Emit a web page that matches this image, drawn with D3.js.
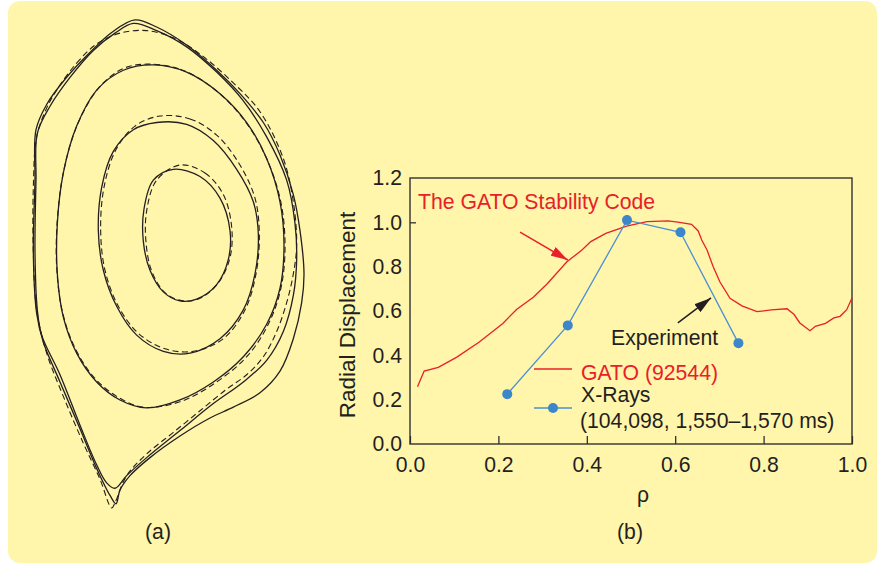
<!DOCTYPE html>
<html>
<head>
<meta charset="utf-8">
<script src="https://cdn.jsdelivr.net/npm/d3@7"></script>
<style>
  body { margin: 0; background: #fff; }
  svg text { font-family: "Liberation Sans", Arial, Helvetica, sans-serif; fill: #231f20; }
</style>
</head>
<body>
<div id="outer"></div>
<script>

////////// DATA //////////

// (b) radial displacement vs rho
const xTicks = [0, 0.2, 0.4, 0.6, 0.8, 1.0];
const yTicks = [0, 0.2, 0.4, 0.6, 0.8, 1.0, 1.2];

const gatoRho  = [0.017, 0.032, 0.064, 0.106, 0.156, 0.210, 0.241, 0.279, 0.310, 0.355, 0.389, 0.409, 0.443, 0.490,
                  0.536, 0.584, 0.606, 0.637, 0.652, 0.660, 0.672, 0.686, 0.701, 0.724, 0.751, 0.785, 0.817, 0.853,
                  0.869, 0.882, 0.905, 0.917, 0.940, 0.959, 0.973, 0.988, 1.000];
const gatoDisp = [0.258, 0.329, 0.346, 0.392, 0.459, 0.544, 0.607, 0.662, 0.722, 0.822, 0.875, 0.913, 0.950, 0.983,
                  1.003, 1.007, 1.001, 0.991, 0.961, 0.920, 0.875, 0.800, 0.732, 0.657, 0.623, 0.597, 0.605, 0.610,
                  0.584, 0.546, 0.511, 0.531, 0.544, 0.569, 0.576, 0.606, 0.659];

const xrayRho  = [0.220, 0.357, 0.491, 0.612, 0.743];
const xrayDisp = [0.225, 0.535, 1.010, 0.955, 0.455];

// (a) flux surfaces, traced in picture units (990 x 1568 frame)
const outerSolidA = [[405,55],[470,75],[560,125],[650,195],[720,260],[790,340],[840,430],[880,540],[900,640],[912,760],
  [905,840],[880,940],[840,1030],[780,1090],[700,1130],[630,1160],[540,1210],[450,1270],[390,1320],[360,1360],[348,1398],
  [330,1375],[290,1300],[240,1190],[180,1060],[130,950],[110,870],[100,700],[105,500],[108,360],[140,290],[195,220],
  [265,150],[335,90]];
const outerSolidB = [[400,65],[470,85],[560,130],[650,200],[730,280],[800,380],[860,500],[885,620],[890,720],[880,820],
  [850,920],[800,1000],[730,1060],[640,1120],[540,1195],[440,1270],[380,1320],[345,1355],[320,1340],[290,1290],[240,1180],
  [180,1040],[125,930],[112,860],[105,700],[108,500],[112,370],[150,295],[210,215],[280,140],[345,92]];
const outerDashed = [[170,250],[230,175],[290,122],[360,92],[440,85],[520,105],[600,150],[700,230],[780,310],[850,440],
  [880,560],[890,680],[880,760],[860,840],[830,920],[790,990],[740,1040],[680,1080],[600,1140],[520,1200],[440,1260],
  [380,1320],[345,1395],[335,1410],[300,1330],[250,1230],[190,1100],[140,980],[110,860],[100,700],[100,520],[110,380],
  [140,300]];
const midSolid = [[460,180],[560,200],[660,260],[740,340],[800,440],[840,560],[852,680],[840,800],[800,900],[730,990],
  [640,1060],[540,1110],[440,1132],[360,1110],[290,1060],[230,980],[190,880],[172,760],[172,620],[190,480],[230,350],
  [290,250],[370,195]];
const midDashed = [[440,178],[540,192],[640,245],[730,330],[795,430],[840,550],[855,670],[845,790],[810,890],[745,985],
  [650,1060],[540,1115],[430,1130],[350,1100],[280,1045],[222,960],[186,860],[170,740],[172,610],[192,470],[235,340],
  [300,240],[370,190]];
const innerSolid = [[470,340],[560,345],[640,390],[710,470],[760,560],[775,650],[765,760],[730,860],[660,940],[570,980],
  [490,975],[410,930],[350,850],[310,750],[295,640],[305,520],[340,420],[400,360]];
const innerDashed = [[480,322],[570,330],[650,375],[718,455],[765,550],[778,650],[768,760],[735,860],[670,940],[580,975],
  [495,968],[415,925],[355,850],[315,750],[302,640],[312,520],[348,415],[405,350]];
const coreSolid = [[520,470],[600,490],[660,550],[690,640],[685,720],[650,790],[590,830],[540,835],[490,810],[450,750],
  [430,670],[432,580],[460,500]];
const coreDashed = [[540,458],[615,480],[670,540],[695,630],[690,715],[655,785],[600,828],[548,835],[495,812],[455,752],
  [438,672],[440,585],[470,500]];

const surfaces = [
  {pts: outerSolidA, dashed: false}, {pts: outerSolidB, dashed: false}, {pts: outerDashed, dashed: true},
  {pts: midSolid, dashed: false}, {pts: midDashed, dashed: true},
  {pts: innerSolid, dashed: false}, {pts: innerDashed, dashed: true},
  {pts: coreSolid, dashed: false}, {pts: coreDashed, dashed: true}
];

////////// SETUP //////////
const W = 885, H = 565;
const red = '#e8202a', blue = '#3b87c9', ink = '#231f20';
const fontSize = '21.2px';

const svg = d3.select('#outer').append('svg')
  .attr('width', W)
  .attr('height', H);

const defs = svg.append('defs');
[['arrowRed', red], ['arrowBlack', ink]].forEach(([id, c]) => {
  defs.append('marker')
    .attr('id', id)
    .attr('markerUnits', 'userSpaceOnUse')
    .attr('markerWidth', 18).attr('markerHeight', 10)
    .attr('refX', 17).attr('refY', 5)
    .attr('orient', 'auto')
    .append('path')
      .attr('d', 'M0,0 L17,5 L0,10 Z')
      .attr('fill', c);
});

// PANEL BACKGROUND //
svg.append('rect')
  .attr('x', 8).attr('y', 1)
  .attr('width', 869).attr('height', 562)
  .attr('rx', 12)
  .attr('fill', '#fff5ab');

////////// (a) FLUX SURFACES //////////
const ax = d3.scaleLinear().domain([0, 990]).range([0, 330]);
const ay = d3.scaleLinear().domain([0, 1568]).range([0, 565]);
const contourLine = d3.line()
  .x(d => ax(d[0]))
  .y(d => ay(d[1]))
  .curve(d3.curveCatmullRomClosed.alpha(0.5));

const aGroup = svg.append('g').attr('class', 'panelA');
aGroup.selectAll('path.surface')
  .data(surfaces)
  .enter().append('path')
    .attr('class', 'surface')
    .attr('d', d => contourLine(d.pts))
    .attr('fill', 'none')
    .attr('stroke', ink)
    .attr('stroke-width', d => d.dashed ? 1.1 : 1.3)
    .attr('stroke-dasharray', d => d.dashed ? '6,3.5' : null);

aGroup.append('text')
  .attr('x', 158).attr('y', 539)
  .attr('text-anchor', 'middle')
  .style('font-size', fontSize)
  .text('(a)');

////////// (b) CHART //////////
const x = d3.scaleLinear().domain([0, 1]).range([410, 852]);
const y = d3.scaleLinear().domain([0, 1.2]).range([444, 178]);

const bGroup = svg.append('g').attr('class', 'panelB');

// AXES //
const xAxis = bGroup.append('g')
  .attr('transform', `translate(0,${y(0)})`)
  .call(d3.axisBottom(x).tickValues(xTicks).tickFormat(d3.format('.1f')).tickSize(-8).tickPadding(13));
xAxis.select('.domain').remove();
xAxis.selectAll('line').attr('stroke', ink).attr('stroke-width', 1.2);
xAxis.selectAll('text').style('font-size', fontSize).attr('fill', ink);

const yAxis = bGroup.append('g')
  .attr('transform', `translate(${x(0)},0)`)
  .call(d3.axisLeft(y).tickValues(yTicks).tickFormat(d3.format('.1f')).tickSize(0).tickPadding(8));
yAxis.select('.domain').remove();
yAxis.selectAll('text').style('font-size', fontSize).attr('fill', ink);
yAxis.selectAll('.tick').filter(d => d === 1.0).select('line')
  .attr('x2', 6).attr('stroke', ink).attr('stroke-width', 1.2);

// FRAME //
bGroup.append('rect')
  .attr('x', x(0)).attr('y', y(1.2))
  .attr('width', x(1) - x(0)).attr('height', y(0) - y(1.2))
  .attr('fill', 'none')
  .attr('stroke', '#333')
  .attr('stroke-width', 1.4);

bGroup.append('text')
  .attr('transform', `translate(347,315) rotate(-90)`)
  .attr('text-anchor', 'middle')
  .attr('dy', '0.35em')
  .style('font-size', '22.5px')
  .text('Radial Displacement');

bGroup.append('text')
  .attr('x', 643).attr('y', 502)
  .attr('text-anchor', 'middle')
  .style('font-size', fontSize)
  .text('ρ');

bGroup.append('text')
  .attr('x', 630).attr('y', 539)
  .attr('text-anchor', 'middle')
  .style('font-size', fontSize)
  .text('(b)');

// GATO CURVE //
const gato = gatoRho.map((r, i) => [r, gatoDisp[i]]);
bGroup.append('path')
  .attr('d', d3.line().x(d => x(d[0])).y(d => y(d[1])).curve(d3.curveLinear)(gato))
  .attr('fill', 'none')
  .attr('stroke', red)
  .attr('stroke-width', 1.3);

// X-RAY POINTS //
const xray = xrayRho.map((r, i) => [r, xrayDisp[i]]);
bGroup.append('path')
  .attr('d', d3.line().x(d => x(d[0])).y(d => y(d[1]))(xray))
  .attr('fill', 'none')
  .attr('stroke', '#4a90d2')
  .attr('stroke-width', 1.3);
bGroup.selectAll('circle.xray')
  .data(xray)
  .enter().append('circle')
    .attr('class', 'xray')
    .attr('cx', d => x(d[0]))
    .attr('cy', d => y(d[1]))
    .attr('r', 5)
    .attr('fill', blue);

// ANNOTATIONS //
bGroup.append('line')
  .attr('x1', x(0.249)).attr('y1', y(0.956))
  .attr('x2', x(0.357)).attr('y2', y(0.830))
  .attr('stroke', red).attr('stroke-width', 1.5)
  .attr('marker-end', 'url(#arrowRed)');
bGroup.append('text')
  .attr('x', 418).attr('y', 209)
  .style('font-size', fontSize)
  .style('fill', red)
  .text('The GATO Stability Code');

bGroup.append('line')
  .attr('x1', x(0.606)).attr('y1', y(0.546))
  .attr('x2', x(0.681)).attr('y2', y(0.659))
  .attr('stroke', ink).attr('stroke-width', 1.5)
  .attr('marker-end', 'url(#arrowBlack)');
bGroup.append('text')
  .attr('x', 611).attr('y', 345)
  .style('font-size', fontSize)
  .text('Experiment');

// LEGEND //
const legend = bGroup.append('g').attr('class', 'legend');
legend.append('line')
  .attr('x1', 534).attr('x2', 572).attr('y1', 369).attr('y2', 369)
  .attr('stroke', red).attr('stroke-width', 1.3);
legend.append('text')
  .attr('x', 581).attr('y', 380)
  .style('font-size', fontSize)
  .style('fill', red)
  .text('GATO (92544)');

legend.append('line')
  .attr('x1', 534).attr('x2', 572).attr('y1', 408).attr('y2', 408)
  .attr('stroke', '#4a90d2').attr('stroke-width', 1.3);
legend.append('circle')
  .attr('cx', 553).attr('cy', 408).attr('r', 5)
  .attr('fill', blue);
legend.append('text')
  .attr('x', 581).attr('y', 402)
  .style('font-size', fontSize)
  .text('X-Rays');
legend.append('text')
  .attr('x', 580).attr('y', 428)
  .style('font-size', fontSize)
  .text('(104,098, 1,550–1,570 ms)');

</script>
</body>
</html>
